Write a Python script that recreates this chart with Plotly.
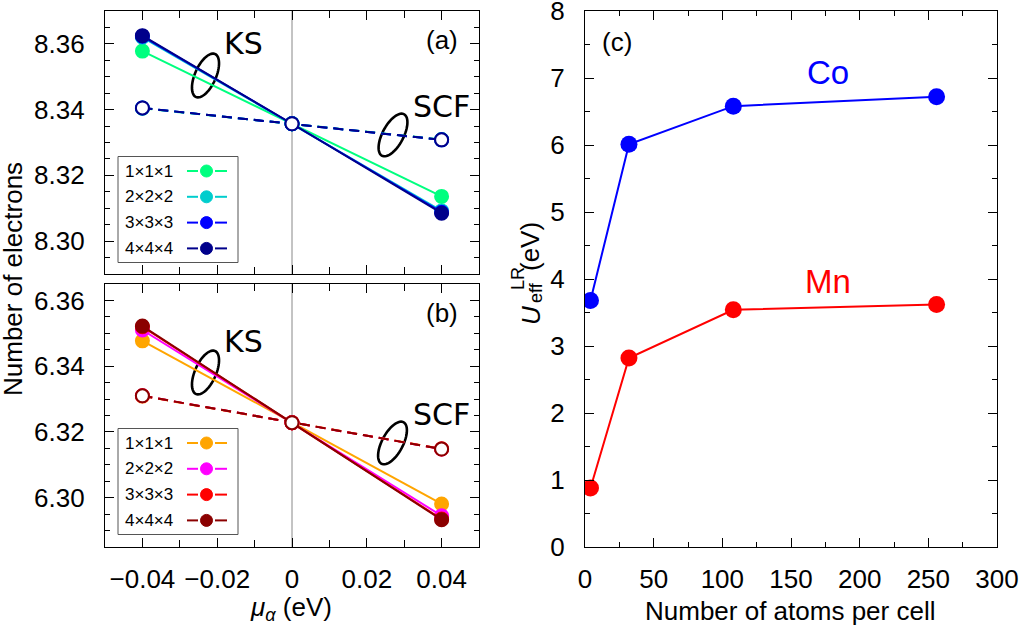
import numpy as np
import plotly.graph_objects as go

# ---------------- data ----------------
mu = [-0.04, 0.0, 0.04]
sizes = ["1×1×1", "2×2×2", "3×3×3", "4×4×4"]
co_colors = ["#00ff7f", "#00cdcd", "#0000ff", "#00008b"]
mn_colors = ["#ffa500", "#ff00ff", "#ff0000", "#8b0000"]

co_ks_1 = [8.3578, 8.3357, 8.3136]
co_ks_2 = [8.3620, 8.3357, 8.3092]
co_ks_3 = [8.3623, 8.3357, 8.3088]
co_ks_4 = [8.3625, 8.3357, 8.3085]
co_scf_1 = [8.3404, 8.3357, 8.3309]
co_scf_2 = [8.3405, 8.3357, 8.3308]
co_scf_3 = [8.3405, 8.3357, 8.3308]
co_scf_4 = [8.3405, 8.3357, 8.3308]

mn_ks_1 = [6.3477, 6.3228, 6.2981]
mn_ks_2 = [6.3510, 6.3228, 6.2945]
mn_ks_3 = [6.3520, 6.3228, 6.2935]
mn_ks_4 = [6.3522, 6.3228, 6.2933]
mn_scf_1 = [6.3309, 6.3228, 6.3149]
mn_scf_2 = [6.3310, 6.3228, 6.3148]
mn_scf_3 = [6.3310, 6.3228, 6.3148]
mn_scf_4 = [6.3310, 6.3228, 6.3148]

atoms = [4, 32, 108, 256]
u_co = [3.68, 6.01, 6.58, 6.72]
u_mn = [0.88, 2.82, 3.54, 3.62]

co_ks = [co_ks_1, co_ks_2, co_ks_3, co_ks_4]
co_scf = [co_scf_1, co_scf_2, co_scf_3, co_scf_4]
mn_ks = [mn_ks_1, mn_ks_2, mn_ks_3, mn_ks_4]
mn_scf = [mn_scf_1, mn_scf_2, mn_scf_3, mn_scf_4]

# ---------------- layout helpers ----------------
W, H = 1019, 632
ML, MR, MT, MB = 105, 22, 11, 85
PW, PH = W - ML - MR, H - MT - MB


def px(x):
    return (x - ML) / PW


def py(y):
    return (H - MB - y) / PH


FONT = "Liberation Sans, Arial, Helvetica, sans-serif"
fig = go.Figure()

# ---------------- panels (a) and (b) ----------------
for ks_set, scf_set, colors, xa, ya in [
    (co_ks, co_scf, co_colors, "x", "y"),
    (mn_ks, mn_scf, mn_colors, "x2", "y2"),
]:
    for vals, c in zip(scf_set, colors):
        fig.add_trace(go.Scatter(
            x=mu, y=vals, xaxis=xa, yaxis=ya, mode="lines+markers",
            line=dict(color=c, width=2, dash="10px,6px"),
            marker=dict(size=13, color="white", line=dict(color=c, width=2)),
            showlegend=False, hoverinfo="skip"))
    for vals, c in zip(ks_set, colors):
        fig.add_trace(go.Scatter(
            x=mu, y=vals, xaxis=xa, yaxis=ya, mode="lines+markers",
            line=dict(color=c, width=2),
            marker=dict(size=13, color=[c, "white", c], line=dict(color=c, width=2)),
            showlegend=False, hoverinfo="skip"))

# ---------------- panel (c) ----------------
fig.add_trace(go.Scatter(x=atoms, y=u_co, xaxis="x3", yaxis="y3", mode="lines+markers",
                         line=dict(color="#0000ff", width=2),
                         marker=dict(size=17, color="#0000ff"), showlegend=False))
fig.add_trace(go.Scatter(x=atoms, y=u_mn, xaxis="x3", yaxis="y3", mode="lines+markers",
                         line=dict(color="#ff0000", width=2),
                         marker=dict(size=17, color="#ff0000"), showlegend=False))

# ---------------- axes ----------------
common = dict(showline=True, linecolor="black", linewidth=1.3, mirror="ticks",
              ticks="inside", ticklen=9, tickwidth=1.2, tickcolor="black",
              showgrid=False, zeroline=False, ticklabeloverflow="allow", automargin=False,
              tickfont=dict(family=FONT, size=26, color="black"))

xab_ticks = [-0.04, -0.02, 0, 0.02, 0.04]
xab_text = ["−0.04", "−0.02", "0", "0.02", "0.04"]
dom_ab = [0, px(479)]
fig.update_layout(
    xaxis=dict(**common, domain=dom_ab, anchor="y", range=[-0.05, 0.05],
               tickvals=xab_ticks, showticklabels=False,
               minor=dict(ticks="inside", ticklen=7, dtick=0.01, tick0=0, tickcolor="black")),
    yaxis=dict(**common, domain=[py(274), 1], anchor="x", range=[8.29, 8.37],
               tickvals=[8.30, 8.32, 8.34, 8.36], ticktext=["8.30", "8.32", "8.34", "8.36"],
               ticklabelstandoff=14,
               minor=dict(ticks="inside", ticklen=5, dtick=0.005, tick0=8.29, tickcolor="black")),
    xaxis2=dict(**common, domain=dom_ab, anchor="y2", range=[-0.05, 0.05],
                tickvals=xab_ticks, ticktext=xab_text, ticklabelstandoff=9,
                minor=dict(ticks="inside", ticklen=7, dtick=0.01, tick0=0, tickcolor="black")),
    yaxis2=dict(**common, domain=[0, py(284)], anchor="x2", range=[6.285, 6.365],
                tickvals=[6.30, 6.32, 6.34, 6.36], ticktext=["6.30", "6.32", "6.34", "6.36"],
                ticklabelstandoff=14,
                minor=dict(ticks="inside", ticklen=5, dtick=0.005, tick0=6.285, tickcolor="black")),
    xaxis3=dict(**common, domain=[px(585), 1], anchor="y3", range=[0, 300],
                tickvals=[0, 50, 100, 150, 200, 250, 300], ticklabelstandoff=9,
                minor=dict(ticks="inside", ticklen=5, dtick=25, tick0=0, tickcolor="black")),
    yaxis3=dict(**common, domain=[0, 1], anchor="x3", range=[0, 8],
                tickvals=[0, 1, 2, 3, 4, 5, 6, 7, 8], ticklabelstandoff=14,
                minor=dict(ticks="inside", ticklen=5, dtick=0.5, tick0=0, tickcolor="black")),
)

# ---------------- shapes ----------------
shapes = []
# vertical lines at mu = 0
for xa, ya in [("x", "y"), ("x2", "y2")]:
    shapes.append(dict(type="line", xref=xa, yref=ya + " domain", x0=0, x1=0, y0=0, y1=1,
                       line=dict(color="#888888", width=1), layer="below"))


def ellipse_path(cx, cy, a, b, tilt_deg):
    t = np.linspace(0, 2 * np.pi, 60)
    th = np.deg2rad(tilt_deg)
    ex = b * np.cos(t)
    ey = -a * np.sin(t)
    rx = cx + ex * np.cos(th) - ey * np.sin(th)
    ry = cy + ex * np.sin(th) + ey * np.cos(th)
    pts = [f"{px(X):.5f},{py(Y):.5f}" for X, Y in zip(rx, ry)]
    return "M " + " L ".join(pts) + " Z"


for cx, cy, ang in [(205.5, 75.5, 24), (393, 135, 28), (205.5, 372.5, 24), (392.5, 443, 28)]:
    shapes.append(dict(type="path", xref="paper", yref="paper",
                       path=ellipse_path(cx, cy, 23.5, 10.5, ang),
                       line=dict(color="black", width=2.6), layer="below"))

annotations = []


def legend_box(top, colors):
    shapes.append(dict(type="rect", xref="paper", yref="paper",
                       x0=px(118), x1=px(238), y0=py(top), y1=py(top + 106),
                       line=dict(color="#555555", width=1), fillcolor="white", layer="above"))
    for i, (lab, c) in enumerate(zip(sizes, colors)):
        yy = top + 14.5 + i * 25.8
        annotations.append(dict(x=px(123), y=py(yy), xref="paper", yref="paper", text=lab,
                                showarrow=False, xanchor="left", yanchor="middle",
                                font=dict(family=FONT, size=17, color="black")))
        for x0, x1 in [(187, 198), (215, 227)]:
            shapes.append(dict(type="line", xref="paper", yref="paper",
                               x0=px(x0), x1=px(x1), y0=py(yy), y1=py(yy),
                               line=dict(color=c, width=2), layer="above"))
        shapes.append(dict(type="circle", xref="paper", yref="paper",
                           x0=px(200.5), x1=px(212.5), y0=py(yy - 6), y1=py(yy + 6),
                           fillcolor=c, line=dict(color=c, width=1), layer="above"))


legend_box(156.5, co_colors)
legend_box(428.5, mn_colors)


def label(x, y, text, size=26, color="black", family=FONT, **kw):
    d = dict(x=px(x), y=py(y), xref="paper", yref="paper", text=text, showarrow=False,
             xanchor="center", yanchor="middle", font=dict(family=family, size=size, color=color))
    d.update(kw)
    annotations.append(d)


DV = "DejaVu Sans, sans-serif"
label(243, 44, "KS", 30, family=DV)
label(441, 106, "SCF", 30, family=DV)
label(243, 341, "KS", 30, family=DV)
label(441, 414, "SCF", 30, family=DV)
label(442, 40, "(a)")
label(442, 313, "(b)")
label(617, 42, "(c)")
label(828, 72, "Co", 33, color="#0000ff")
label(828, 281, "Mn", 33, color="#ff0000")
label(291, 608, "<i>μ</i><sub><i>α</i></sub> (eV)")
label(790, 611, "Number of atoms per cell")
label(13, 279, "Number of electrons", textangle=-90)
# U_eff^LR (eV) built from stacked pieces
label(531, 316, "<i>U</i>", textangle=-90)
label(536, 293, "eff", 18, textangle=-90)
label(518, 279, "LR", 18, textangle=-90)
label(530, 247, "(eV)", textangle=-90)

fig.update_layout(
    width=W, height=H, autosize=False,
    margin=dict(l=ML, r=MR, t=MT, b=MB, autoexpand=False),
    paper_bgcolor="white", plot_bgcolor="rgba(0,0,0,0)",
    shapes=shapes, annotations=annotations, showlegend=False,
    font=dict(family=FONT, size=26, color="black"),
)

fig.write_html("out.html")
